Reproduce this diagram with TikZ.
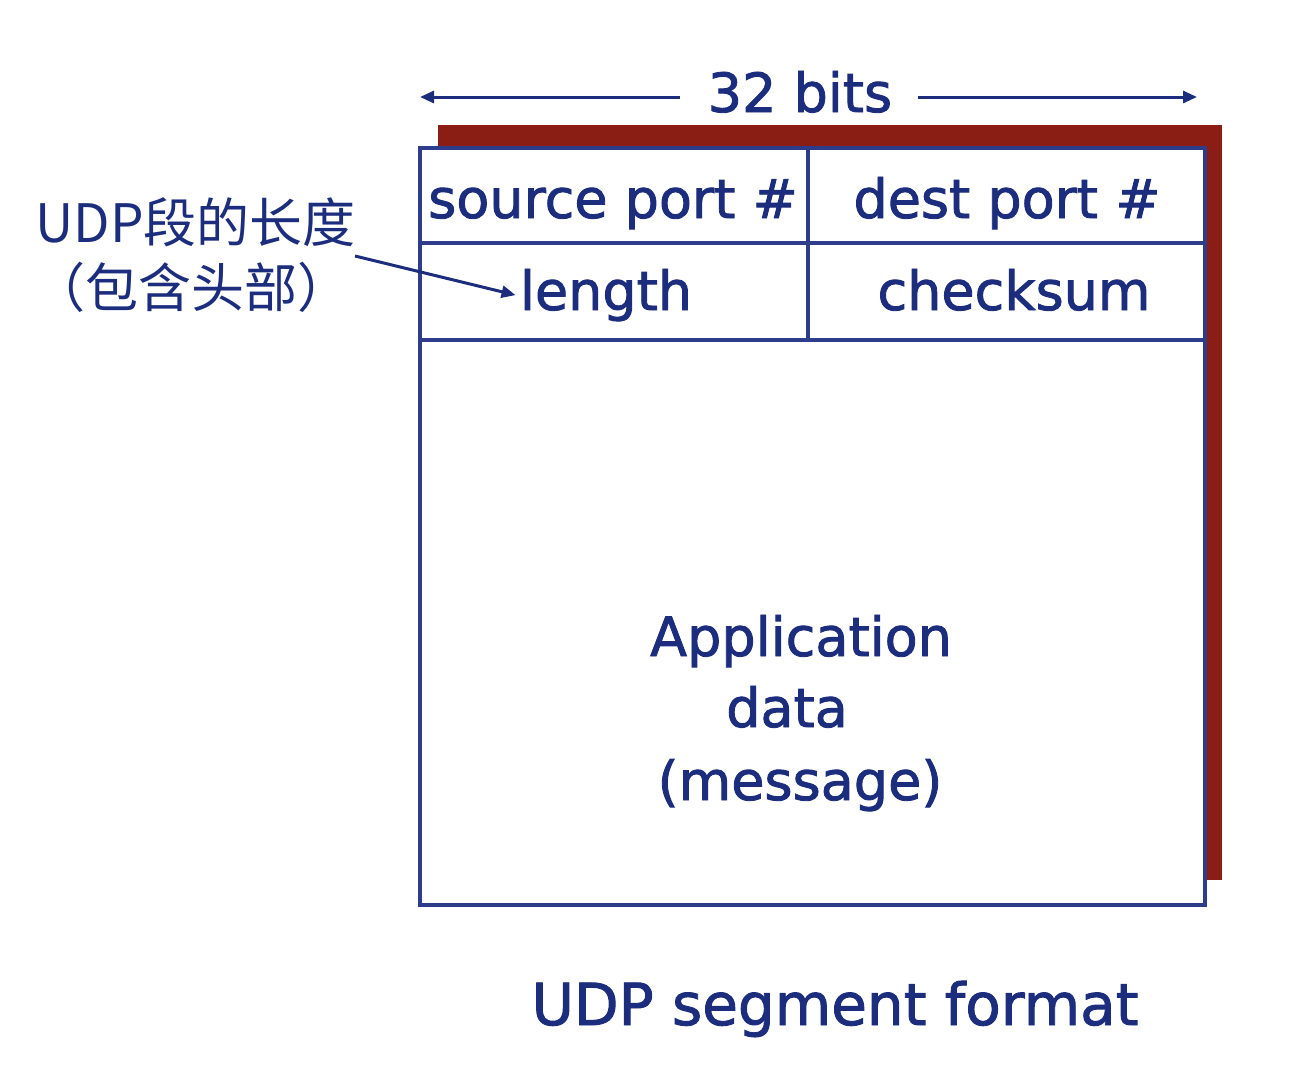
\documentclass[tikz,border=0pt]{standalone}
\usepackage{fontspec}
\setmainfont{DejaVu Sans}[RawFeature={embolden=1.6}]
\newfontfamily\cjkfont{Noto Sans CJK SC}
\usetikzlibrary{arrows.meta}
\definecolor{navy}{HTML}{1C2D7E}
\definecolor{boxline}{HTML}{2E3C8C}
\definecolor{shadowred}{HTML}{8B1E14}
\begin{document}
\begin{tikzpicture}[x=0.5pt,y=-0.5pt,
  lbl/.style={text=navy,inner sep=0pt,anchor=base,font=\fontsize{27}{31}\selectfont},
  cjk/.style={text=navy,inner sep=0pt,anchor=base west,font=\cjkfont\fontsize{26.5}{30}\selectfont},
  frame/.style={draw=boxline,line width=1.6pt},
  arr/.style={draw=navy,line width=1.5pt,-{Triangle[length=7pt,width=6pt]}}]
\useasboundingbox (0,0) rectangle (1300,1076);
% shadow
\fill[shadowred] (438,125) rectangle (1222,880);
% main box
\fill[white] (420,148) rectangle (1205,905);
\coordinate (tl) at (420,148);
\coordinate (br) at (1205,905);
\draw[frame] (tl) rectangle (br);
\draw[frame] (420,243) -- (1205,243);
\draw[frame] (420,340) -- (1205,340);
\draw[frame] (808,148) -- (808,340);
% field labels
\node[lbl] (src) at (613,218) {source port \#};
\node[lbl] (dst) at (1007,218) {dest port \#};
\node[lbl] (len) at (606,310) {length};
\node[lbl] (chk) at (1014,310) {checksum};
\node[lbl] (app) at (801,656) {Application};
\node[lbl] (dat) at (787,727) {data};
\node[lbl] (msg) at (800,800) {(message)};
\node[lbl,font=\fontsize{29}{33}\selectfont] (cap) at (835,1025) {UDP segment format};
% 32 bits
\node[lbl] (bits) at (800,112) {32 bits};
\coordinate (lend) at (420,97);
\coordinate (rend) at (1197,97);
\draw[arr] (680,97) -- (lend);
\draw[arr] (918,97) -- (rend);
% chinese annotation
\node[cjk] (zh1) at (35,242) {UDP段的长度};
\node[cjk] (zh2) at (32,307) {（包含头部）};
\coordinate (astart) at (355,256);
\draw[arr] (astart) -- ([xshift=-2pt]len.west);
\end{tikzpicture}
\end{document}
